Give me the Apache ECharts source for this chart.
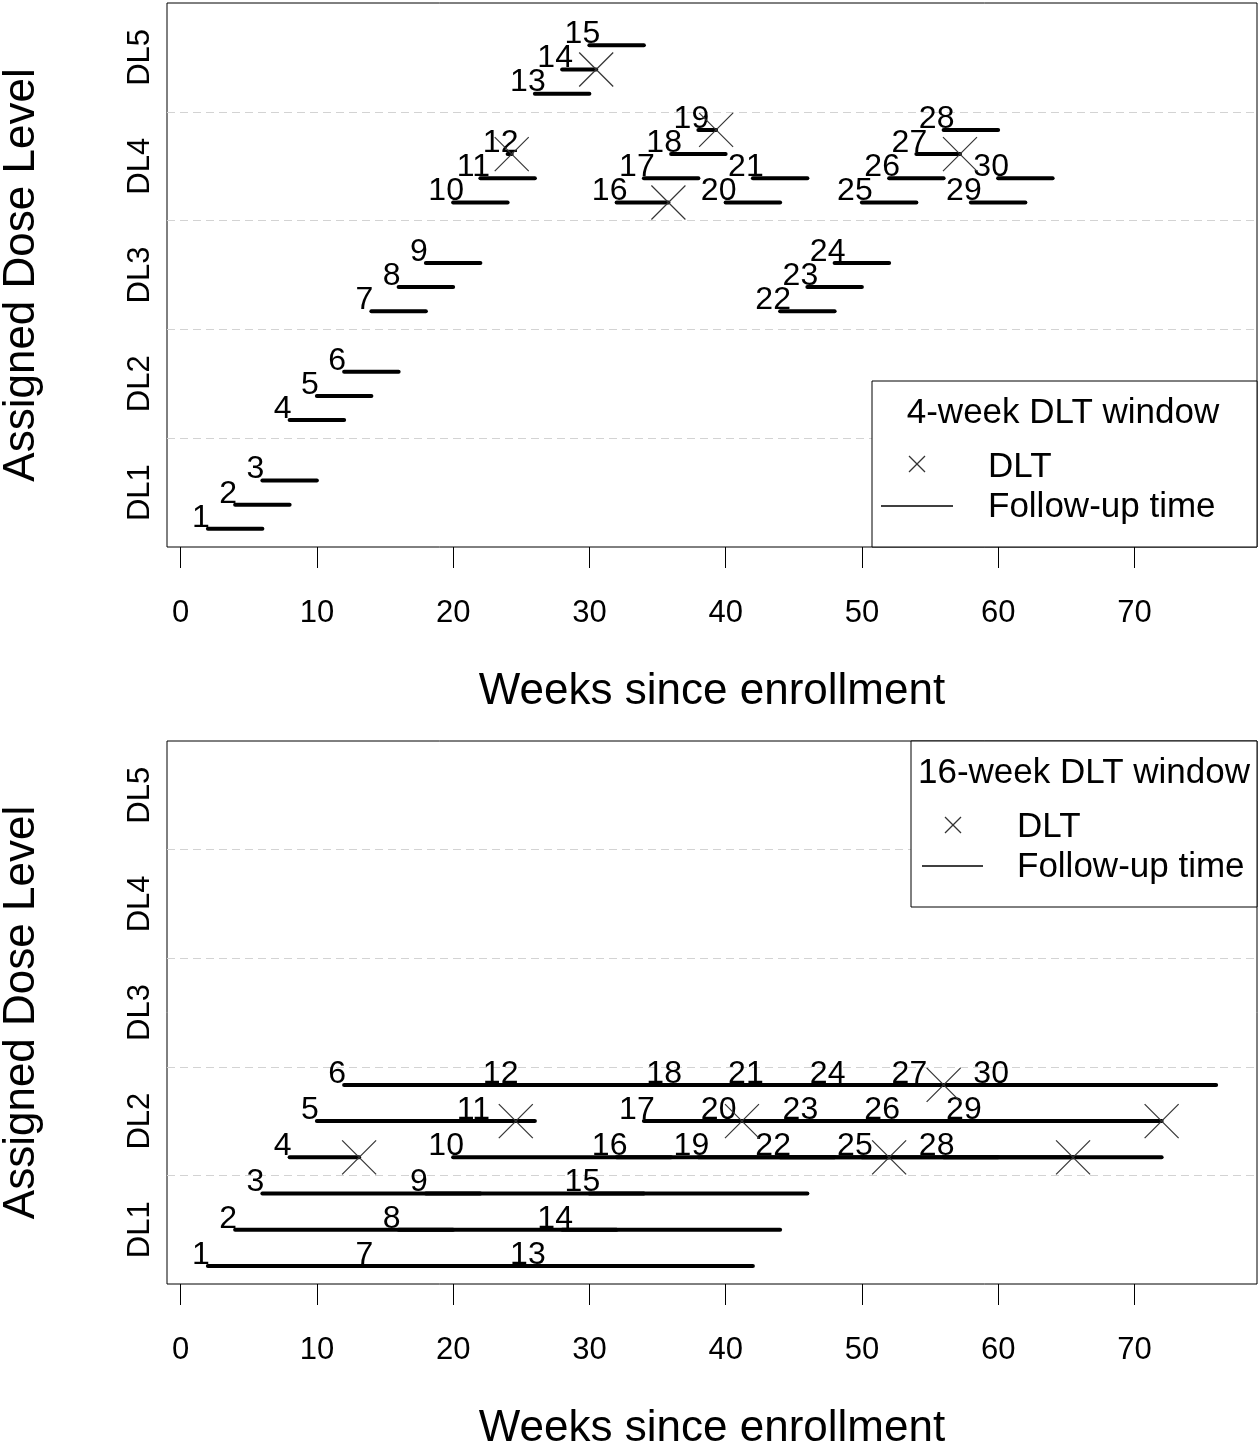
<!DOCTYPE html>
<html><head><meta charset="utf-8">
<script src="https://cdn.jsdelivr.net/npm/echarts@6/dist/echarts.min.js"></script>
<style>html,body{margin:0;padding:0;background:#fff}#c{width:1260px;height:1447px}</style>
</head><body><div id="c"></div>
<script>
// ---------- data ----------
const patients = ['1','2','3','4','5','6','7','8','9','10','11','12','13','14','15','16','17','18','19','20','21','22','23','24','25','26','27','28','29','30'];
const enrollWeek = [2,4,6,8,10,12,14,16,18,20,22,24,26,28,30,32,34,36,38,40,42,44,46,48,50,52,54,56,58,60];
const doseLevels = ['DL1','DL2','DL3','DL4','DL5'];
const doseTicks = [1,2,3,4,5];
const weekTicks = [0,10,20,30,40,50,60,70];

// 4-week DLT window panel
const dose4 = [1,1,1,2,2,2,3,3,3,4,4,4,5,5,5,4,4,4,4,4,4,3,3,3,4,4,4,4,4,4];
const slot4 = [0,1,2,0,1,2,0,1,2,0,1,2,0,1,2,0,1,2,3,0,1,0,1,2,0,1,2,3,0,1];
const end4  = [6,8,10,12,14,16,18,20,22,24,26,24.3,30,30.5,34,35.8,38,40,39.3,44,46,48,50,52,54,56,57.2,60,62,64];
const dlt4  = [null,null,null,null,null,null,null,null,null,null,null,24.3,null,30.5,null,35.8,null,null,39.3,null,null,null,null,null,null,null,57.2,null,null,null];

// 16-week DLT window panel
const dose16 = [1,1,1,2,2,2,1,1,1,2,2,2,1,1,1,2,2,2,2,2,2,2,2,2,2,2,2,2,2,2];
const slot16 = [0,1,2,0,1,2,0,1,2,0,1,2,0,1,2,0,1,2,0,1,2,0,1,2,0,1,2,0,1,2];
const end16  = [18,20,22,13.1,26,28,30,32,34,36,24.6,40,42,44,46,48,50,52,52,41.2,58,60,62,64,65.5,68,56,72,72,76];
const dlt16  = [null,null,null,13.1,null,null,null,null,null,null,24.6,null,null,null,null,null,null,null,52,41.2,null,null,null,null,65.5,null,56,null,72,null];

// ---------- build ----------
const FONT = '"Liberation Sans", Arial, sans-serif';
const chart = echarts.init(document.getElementById('c'), null, {renderer:'canvas'});

function slotOffset(slot, nSlots){ return -1/3 + slot * (2/3) / (nSlots - 1); }

function makeFollow(dose, slot, end, nSlots){
  return patients.map((p,i)=>[enrollWeek[i], end[i], dose[i] + slotOffset(slot[i], nSlots), i]);
}
function makeDlt(dose, slot, dlt, nSlots){
  const out = [];
  dlt.forEach((d,i)=>{ if(d!==null) out.push([d, dose[i] + slotOffset(slot[i], nSlots)]); });
  return out;
}

function followRender(params, api){
  const p1 = api.coord([api.value(0), api.value(2)]);
  const p2 = api.coord([api.value(1), api.value(2)]);
  const idx = api.value(3);
  return {type:'group', children:[
    {type:'line', shape:{x1:p1[0], y1:p1[1], x2:p2[0], y2:p2[1]},
     style:{stroke:'#000', lineWidth:4, lineCap:'round'}},
    {type:'text', x:p1[0]-7, y:p1[1]+5,
     style:{text:patients[idx], align:'center', verticalAlign:'bottom', font:'32px '+FONT, fill:'#000'}}
  ]};
}
function dltRender(params, api){
  const c = api.coord([api.value(0), api.value(1)]);
  const h = 17;
  return {type:'group', children:[
    {type:'line', shape:{x1:c[0]-h, y1:c[1]-h, x2:c[0]+h, y2:c[1]+h}, style:{stroke:'#333', lineWidth:1.2}},
    {type:'line', shape:{x1:c[0]-h, y1:c[1]+h, x2:c[0]+h, y2:c[1]-h}, style:{stroke:'#333', lineWidth:1.2}}
  ]};
}

const grids = [
  {left:167, top:3, width:1090, height:544, show:true, borderColor:'#000', borderWidth:1, backgroundColor:'transparent', containLabel:false, outerBoundsMode:'none'},
  {left:167, top:741, width:1090, height:543, show:true, borderColor:'#000', borderWidth:1, backgroundColor:'transparent', containLabel:false, outerBoundsMode:'none'}
];
function xAx(g){
  return {gridIndex:g, type:'value', min:-1, max:79,
    axisLine:{show:false}, splitLine:{show:false},
    axisTick:{show:true, customValues:weekTicks, length:21, lineStyle:{color:'#000', width:1}},
    axisLabel:{customValues:weekTicks, margin:51, fontSize:31, color:'#000', fontFamily:FONT},
    name:'Weeks since enrollment', nameLocation:'middle', nameGap:145,
    nameTextStyle:{fontSize:44, color:'#000', fontFamily:FONT, verticalAlign:'middle'}};
}
function yAx(g){
  return {gridIndex:g, type:'value', min:0.5, max:5.5, interval:1,
    axisLine:{show:false}, axisTick:{show:false},
    splitLine:{show:true, showMinLine:false, showMaxLine:false, lineStyle:{type:[8,5], color:'#d3d3d3', width:1}},
    axisLabel:{customValues:doseTicks, formatter:(v)=>doseLevels[Math.round(v)-1], rotate:90, margin:11,
      fontSize:31, color:'#000', fontFamily:FONT},
    name:'Assigned Dose Level', nameLocation:'middle', nameGap:145, nameRotate:90,
    nameTextStyle:{fontSize:44, color:'#000', fontFamily:FONT, verticalAlign:'middle'}};
}

function legend(x, y, w, h, title, titleX, titleY, xX, xY, textX, dltY, lx1, lx2, lY, fY){
  return [
    {type:'rect', z:100, shape:{x:x, y:y, width:w, height:h}, style:{fill:'#fff', stroke:'#000', lineWidth:1}},
    {type:'text', z:101, x:titleX, y:titleY, style:{text:title, align:'center', verticalAlign:'middle', font:'35px '+FONT, fill:'#000'}},
    {type:'line', z:101, shape:{x1:xX-8, y1:xY-8, x2:xX+8, y2:xY+8}, style:{stroke:'#333', lineWidth:1.2}},
    {type:'line', z:101, shape:{x1:xX-8, y1:xY+8, x2:xX+8, y2:xY-8}, style:{stroke:'#333', lineWidth:1.2}},
    {type:'text', z:101, x:textX, y:dltY, style:{text:'DLT', align:'left', verticalAlign:'middle', font:'35px '+FONT, fill:'#000'}},
    {type:'line', z:101, shape:{x1:lx1, y1:lY, x2:lx2, y2:lY}, style:{stroke:'#000', lineWidth:1.3}},
    {type:'text', z:101, x:textX, y:fY, style:{text:'Follow-up time', align:'left', verticalAlign:'middle', font:'35px '+FONT, fill:'#000'}}
  ];
}

const option = {
  backgroundColor:'#fff',
  animation:false,
  grid: grids,
  xAxis: [xAx(0), xAx(1)],
  yAxis: [yAx(0), yAx(1)],
  series: [
    {type:'custom', xAxisIndex:0, yAxisIndex:0, renderItem:followRender, data:makeFollow(dose4, slot4, end4, 4), encode:{x:[0,1], y:2}, clip:false},
    {type:'custom', xAxisIndex:0, yAxisIndex:0, renderItem:dltRender, data:makeDlt(dose4, slot4, dlt4, 4), encode:{x:0, y:1}, z:3},
    {type:'custom', xAxisIndex:1, yAxisIndex:1, renderItem:followRender, data:makeFollow(dose16, slot16, end16, 3), encode:{x:[0,1], y:2}, clip:false},
    {type:'custom', xAxisIndex:1, yAxisIndex:1, renderItem:dltRender, data:makeDlt(dose16, slot16, dlt16, 3), encode:{x:0, y:1}, z:3}
  ],
  graphic: [].concat(
    legend(872, 381, 385, 166, '4-week DLT window', 1063, 413, 917, 464, 988, 467, 881, 953, 506, 507),
    legend(911, 741, 346, 166, '16-week DLT window', 1084, 773, 953, 825, 1017, 827, 922, 983, 866, 867)
  )
};
chart.setOption(option);
</script></body></html>
